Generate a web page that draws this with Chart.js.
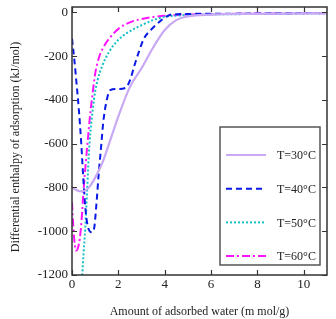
<!DOCTYPE html>
<html>
<head>
<meta charset="utf-8">
<script src="https://cdn.jsdelivr.net/npm/chart.js@4/dist/chart.umd.min.js"></script>
<style>
  html, body { margin: 0; padding: 0; background: #fff; }
  canvas { display: block; }
</style>
</head>
<body>
<canvas id="chart" width="336" height="319"></canvas>
<script>
// ===== data =====
const x30 = [0, 0.2, 0.4, 0.6, 0.8, 1.0, 1.3, 1.6, 2.0, 2.5, 3.0, 3.5, 4.0, 4.5, 5, 6, 8, 11];
const y30 = [-800, -812, -818, -812, -790, -755, -690, -600, -475, -340, -255, -160, -80, -35, -18, -10, -6, -3];

const x40 = [0, 0.1, 0.2, 0.3, 0.4, 0.5, 0.6, 0.7, 0.85, 0.95, 1.05, 1.15, 1.25, 1.35, 1.5, 1.65, 1.9, 2.3, 2.5, 2.7, 2.9, 3.1, 3.4, 3.8, 4.2, 4.5, 6, 11];
const y40 = [-120, -215, -330, -450, -600, -780, -920, -985, -1005, -990, -880, -740, -620, -500, -400, -355, -350, -345, -310, -240, -175, -120, -80, -40, -12, -8, -6, -2];

const x50 = [0.43, 0.5, 0.57, 0.65, 0.72, 0.8, 0.9, 1.0, 1.1, 1.3, 1.6, 2.0, 2.4, 3.0, 3.5, 4.0, 5, 7, 11];
const y50 = [-1220, -1100, -990, -820, -660, -540, -440, -360, -310, -245, -180, -125, -92, -58, -35, -20, -12, -8, -4];

const x60 = [0, 0.06, 0.12, 0.18, 0.26, 0.34, 0.42, 0.5, 0.6, 0.7, 0.8, 0.9, 1.0, 1.15, 1.35, 1.6, 2.0, 2.5, 3.0, 4, 6, 11];
const y60 = [-868, -985, -1060, -1088, -1075, -1030, -940, -810, -680, -560, -450, -360, -280, -210, -160, -120, -75, -45, -30, -15, -8, -3];

const xTicks = [0, 2, 4, 6, 8, 10];
const yTicks = [0, -200, -400, -600, -800, -1000, -1200];

const seriesLabels = ['T=30°C', 'T=40°C', 'T=50°C', 'T=60°C'];
const xTitle = 'Amount of adsorbed water (m mol/g)';
const yTitle = 'Differential enthalpy of adsorption (kJ/mol)';

const toPoints = (xs, ys) => xs.map((x, i) => ({ x, y: ys[i] }));

const FONT = '"Liberation Serif", "Times New Roman", serif';

// frame + inward ticks on all four sides
const framePlugin = {
  id: 'frame',
  afterDraw(chart) {
    const { ctx, chartArea: a, scales } = chart;
    ctx.save();
    ctx.strokeStyle = '#333';
    ctx.lineWidth = 1.5;
    ctx.strokeRect(a.left, a.top, a.right - a.left, a.bottom - a.top);
    ctx.lineWidth = 1.2;
    ctx.beginPath();
    scales.x.ticks.forEach(t => {
      const px = Math.round(scales.x.getPixelForValue(t.value)) + 0.5;
      ctx.moveTo(px, a.bottom); ctx.lineTo(px, a.bottom - 5);
      ctx.moveTo(px, a.top); ctx.lineTo(px, a.top + 5);
    });
    scales.y.ticks.forEach(t => {
      const py = Math.round(scales.y.getPixelForValue(t.value)) + 0.5;
      ctx.moveTo(a.left, py); ctx.lineTo(a.left + 5, py);
      ctx.moveTo(a.right, py); ctx.lineTo(a.right - 5, py);
    });
    ctx.stroke();
    ctx.restore();
  }
};

// boxed legend inside the plot, lower right
const legendPlugin = {
  id: 'boxLegend',
  afterDatasetsDraw(chart) {
    const { ctx } = chart;
    const box = { left: 220, top: 127, right: 320, bottom: 265 };
    ctx.save();
    ctx.fillStyle = '#fff';
    ctx.fillRect(box.left, box.top, box.right - box.left, box.bottom - box.top);
    ctx.strokeStyle = '#555';
    ctx.lineWidth = 1.5;
    ctx.strokeRect(box.left, box.top, box.right - box.left, box.bottom - box.top);
    chart.data.datasets.forEach((ds, i) => {
      const y = 155 + i * 33.7;
      ctx.strokeStyle = ds.borderColor;
      ctx.lineWidth = ds.borderWidth;
      ctx.setLineDash(ds.borderDash || []);
      ctx.beginPath();
      ctx.moveTo(226, y); ctx.lineTo(266, y);
      ctx.stroke();
      ctx.setLineDash([]);
      ctx.fillStyle = '#222';
      ctx.font = '12px ' + FONT;
      ctx.textBaseline = 'middle';
      ctx.fillText(ds.label, 277, y + 1);
    });
    ctx.restore();
  }
};

// vertical y title
const titlePlugin = {
  id: 'yTitle',
  afterDraw(chart) {
    const { ctx, chartArea: a } = chart;
    ctx.save();
    ctx.translate(16, (a.top + a.bottom) / 2 + 6);
    ctx.rotate(-Math.PI / 2);
    ctx.fillStyle = '#222';
    ctx.font = '12px ' + FONT;
    ctx.textAlign = 'center';
    ctx.textBaseline = 'middle';
    ctx.fillText(yTitle, 0, 0);
    ctx.restore();
  }
};

const common = { pointRadius: 0, fill: false, cubicInterpolationMode: 'monotone' };

new Chart(document.getElementById('chart').getContext('2d'), {
  type: 'line',
  data: {
    datasets: [
      { ...common, label: seriesLabels[0], data: toPoints(x30, y30), borderColor: '#c9a8f4', borderWidth: 2.2 },
      { ...common, label: seriesLabels[1], data: toPoints(x40, y40), borderColor: '#0a1ae6', borderWidth: 2, borderDash: [6, 4] },
      { ...common, label: seriesLabels[2], data: toPoints(x50, y50), borderColor: '#14c0c8', borderWidth: 2, borderDash: [2, 2] },
      { ...common, label: seriesLabels[3], data: toPoints(x60, y60), borderColor: '#ff14ff', borderWidth: 2, borderDash: [8, 3, 2, 3] }
    ]
  },
  options: {
    responsive: false,
    animation: false,
    events: [],
    layout: { padding: { left: 0, right: 9, top: 7, bottom: 0 } },
    plugins: { legend: { display: false }, tooltip: { enabled: false } },
    scales: {
      x: {
        type: 'linear', min: 0, max: 11,
        grid: { display: false, drawTicks: false },
        border: { display: false },
        ticks: {
          padding: 2, color: '#222', autoSkip: false,
          font: { family: FONT, size: 13 }, maxRotation: 0,
          callback: v => String(v)
        },
        afterBuildTicks: s => { s.ticks = xTicks.map(v => ({ value: v })); },
        title: { display: true, text: xTitle, color: '#222', font: { family: FONT, size: 12 }, padding: { top: 10, bottom: 0 } },
        afterFit: s => { s.height = 44; s.paddingLeft = 0; s.paddingRight = 0; }
      },
      y: {
        type: 'linear', min: -1200, max: 25,
        grid: { display: false, drawTicks: false },
        border: { display: false },
        ticks: {
          padding: 4, color: '#222', autoSkip: false,
          font: { family: FONT, size: 13 },
          callback: v => String(v)
        },
        afterBuildTicks: s => { s.ticks = yTicks.map(v => ({ value: v })); },
        afterFit: s => { s.width = 72; s.paddingTop = 0; s.paddingBottom = 0; }
      }
    }
  },
  plugins: [framePlugin, legendPlugin, titlePlugin]
});
</script>
</body>
</html>
